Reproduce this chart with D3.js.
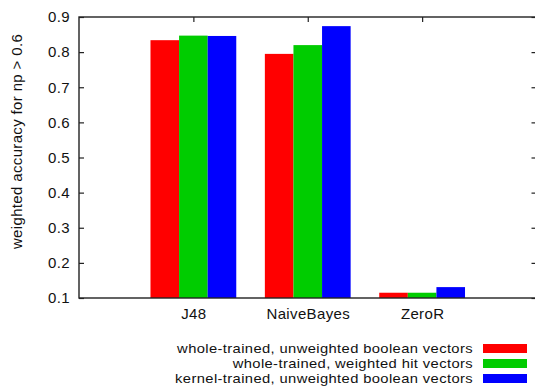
<!DOCTYPE html>
<html>
<head>
<meta charset="utf-8">
<script src="https://cdn.jsdelivr.net/npm/d3@7/dist/d3.min.js"></script>
<style>
  html, body { margin: 0; padding: 0; background: #fff; }
  text { font-family: "Liberation Sans", Arial, sans-serif; fill: #111; letter-spacing: 0.35px; }
</style>
</head>
<body>
<svg id="chart" width="535" height="387"></svg>
<script>
// Classifier results
const categories = ["J48", "NaiveBayes", "ZeroR"];
const seriesNames = [
  "whole-trained, unweighted boolean vectors",
  "whole-trained, weighted hit vectors",
  "kernel-trained, unweighted boolean vectors"
];
const seriesColors = ["#ff0000", "#00cc00", "#0000ff"];
const unweightedBoolean = [0.834, 0.795, 0.115];
const weightedHit = [0.847, 0.820, 0.115];
const kernelBoolean = [0.846, 0.874, 0.131];
const yTicks = [0.1, 0.2, 0.3, 0.4, 0.5, 0.6, 0.7, 0.8, 0.9];
const yLabel = "weighted accuracy for np > 0.6";

const series = [unweightedBoolean, weightedHit, kernelBoolean];

const svg = d3.select("#chart");
const plotLeft = 79, plotRight = 536.5, plotTop = 17, plotBottom = 298;
const fontSize = 15;

// categories sit at integer positions 0..n-1, axis spans -1..n
const x = d3.scaleLinear().domain([-1, categories.length]).range([plotLeft, plotRight]);
const y = d3.scaleLinear().domain([0.1, 0.9]).range([plotBottom, plotTop]);
const barW = 0.25;

// bars
series.forEach((vals, si) => {
  svg.append("g").selectAll("rect")
    .data(vals)
    .join("rect")
    .attr("x", (d, i) => x(i + (si - 1.5) * barW))
    .attr("width", x(barW) - x(0))
    .attr("y", d => y(d))
    .attr("height", d => y(0.1) - y(d))
    .attr("fill", seriesColors[si]);
});

const axisColor = "#222";

// frame
svg.append("rect")
  .attr("x", plotLeft).attr("y", plotTop)
  .attr("width", plotRight - plotLeft).attr("height", plotBottom - plotTop)
  .attr("fill", "none").attr("stroke", axisColor).attr("stroke-width", 1.4);

// left axis (inward ticks) and mirrored right ticks
const yAxis = d3.axisLeft(y).tickValues(yTicks).tickFormat(d3.format(".1f"))
  .tickSizeInner(-5).tickSizeOuter(0).tickPadding(9);
const gy = svg.append("g").attr("transform", `translate(${plotLeft},0)`).call(yAxis);
gy.select(".domain").remove();
gy.selectAll(".tick line").attr("stroke", axisColor).attr("stroke-width", 1.2);
gy.selectAll(".tick text").attr("font-size", fontSize).attr("fill", "#111");

const gyr = svg.append("g").attr("transform", `translate(${plotRight},0)`)
  .call(d3.axisRight(y).tickValues(yTicks).tickSizeInner(-5).tickSizeOuter(0).tickFormat(""));
gyr.select(".domain").remove();
gyr.selectAll(".tick line").attr("stroke", axisColor).attr("stroke-width", 1.2);

// x axis: labels below, ticks mirrored on top
const xAxis = d3.axisBottom(x).tickValues(d3.range(categories.length))
  .tickFormat(i => categories[i]).tickSizeInner(0).tickSizeOuter(0).tickPadding(10);
const gx = svg.append("g").attr("transform", `translate(0,${plotBottom})`).call(xAxis);
gx.select(".domain").remove();
gx.selectAll(".tick text").attr("font-size", fontSize).attr("fill", "#111");

const gxt = svg.append("g").attr("transform", `translate(0,${plotTop})`)
  .call(d3.axisTop(x).tickValues(d3.range(categories.length)).tickFormat("")
    .tickSizeInner(-5).tickSizeOuter(0));
gxt.select(".domain").remove();
gxt.selectAll(".tick line").attr("stroke", axisColor).attr("stroke-width", 1.2);

// y label
svg.append("text")
  .attr("transform", "translate(22,141.5) rotate(-90)")
  .attr("text-anchor", "middle")
  .attr("font-size", fontSize)
  .text(yLabel);

// legend: rows are tightly packed, so use a slightly smaller, widened face
const legend = svg.append("g");
seriesNames.forEach((name, i) => {
  const yy = 353 + i * 15;
  legend.append("text")
    .attr("transform", `translate(473,${yy}) scale(1.1,1)`)
    .attr("text-anchor", "end")
    .attr("font-size", 13.4)
    .text(name);
  legend.append("rect")
    .attr("x", 483).attr("y", yy - 9)
    .attr("width", 44).attr("height", 9)
    .attr("fill", seriesColors[i]);
});
</script>
</body>
</html>
